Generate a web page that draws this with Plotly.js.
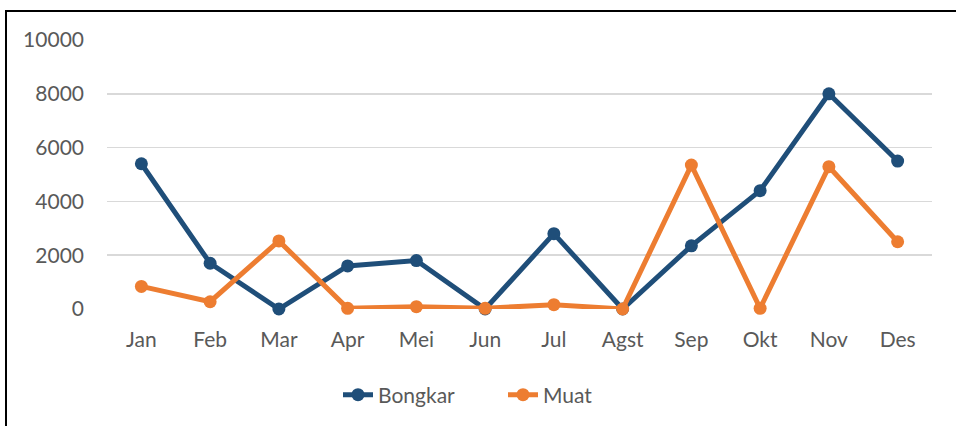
<!DOCTYPE html>
<html>
<head>
<meta charset="utf-8">
<script src="https://cdn.plot.ly/plotly-3.0.1.min.js"></script>
<style>
  html, body { margin: 0; padding: 0; background: #fff; }
  #wrap { position: relative; width: 956px; height: 426px; overflow: hidden; }
  #chart { position: absolute; left: 0; top: 0; width: 956px; height: 426px; }
  #frame { position: absolute; left: 5px; top: 10px; width: 960px; height: 430px;
           border-left: 2.5px solid #000; border-top: 2.5px solid #000; pointer-events: none; }
</style>
</head>
<body>
<div id="wrap">
  <div id="chart"></div>
  <div id="frame"></div>
</div>
<script>
const months = ["Jan", "Feb", "Mar", "Apr", "Mei", "Jun", "Jul", "Agst", "Sep", "Okt", "Nov", "Des"];
const bongkar = [5400, 1700, 0, 1600, 1800, 0, 2800, 0, 2350, 4400, 8000, 5500];
const muat = [840, 270, 2530, 25, 85, 25, 160, 0, 5350, 25, 5290, 2500];
const yTicks = [0, 2000, 4000, 6000, 8000, 10000];

const font = "Lato, 'Open Sans', 'Liberation Sans', sans-serif";

const traces = [
  { x: months, y: bongkar, name: "Bongkar", type: "scatter", mode: "lines+markers",
    line: { color: "#1F4E79", width: 5 }, marker: { color: "#1F4E79", size: 13 }, cliponaxis: false },
  { x: months, y: muat, name: "Muat", type: "scatter", mode: "lines+markers",
    line: { color: "#ED7D31", width: 5 }, marker: { color: "#ED7D31", size: 13 }, cliponaxis: false }
];

const layout = {
  width: 956, height: 426,
  margin: { l: 107, r: 24, t: 40, b: 116 },
  paper_bgcolor: "#fff", plot_bgcolor: "#fff",
  font: { family: font, size: 21, color: "#595959" },
  showlegend: true,
  legend: { orientation: "h", x: 0.28, xanchor: "left", y: -0.315, yanchor: "middle",
            font: { family: font, size: 21, color: "#595959" }, itemwidth: 30,
            entrywidth: 120, entrywidthmode: "pixels" },
  xaxis: { type: "category", range: [-0.5, 11.5], showgrid: false, zeroline: false,
           showline: false, ticks: "", ticklabelstandoff: 16, fixedrange: true },
  yaxis: { range: [0, 10000], tickvals: yTicks, ticktext: yTicks.map(String),
           showgrid: true, gridcolor: "#D9D9D9", gridwidth: 1.5, zeroline: false,
           showline: false, ticks: "", ticklabelstandoff: 22, fixedrange: true }
};

Plotly.newPlot("chart", traces, layout, { displayModeBar: false, staticPlot: true });
</script>
</body>
</html>
